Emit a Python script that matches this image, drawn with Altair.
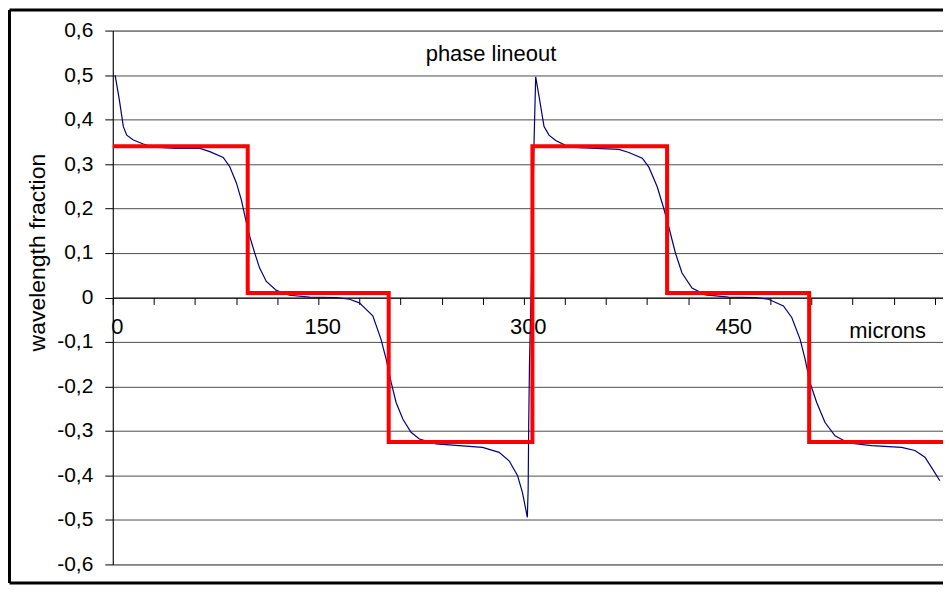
import altair as alt
import pandas as pd

FONT = "Liberation Sans"

# blue curve: phase lineout (microns, wavelength fraction)
blue_x = [1.7, 4.8, 7.7, 10.2, 15, 22.3, 29.6, 46.6, 63.6, 70.8, 80.6, 85.4, 90.3, 93.9,
          97.1, 100, 103.6, 107.2, 112.1, 119.4, 129, 143.7, 163, 172.8, 180, 184, 189.8,
          195.8, 199.5, 203.2, 206.8, 211.7, 217.7, 223.8, 235.9, 252.9, 269.9, 282, 289.3,
          295.4, 299, 302.6, 303.2, 303.6, 304.2, 306, 307.5, 308.7,
          311.2, 314.8, 318.4, 323.3, 333, 352.5, 369.5, 376.7, 386.5, 391.3, 397.4, 402.2,
          405.8, 410.7, 415.5, 422.8, 432.5, 449.5, 468.9, 478.6, 489.5, 495.6, 501.7, 505.3,
          508.9, 513.8, 519.9, 527.2, 536.9, 553.9, 575.8, 585.5, 592.8, 597.6, 603.7]
blue_y = [0.5, 0.444, 0.384, 0.365, 0.354, 0.345, 0.338, 0.335, 0.335, 0.328, 0.315, 0.294,
          0.257, 0.219, 0.174, 0.137, 0.1, 0.066, 0.036, 0.016, 0.005, 0.001, 0.0, -0.004,
          -0.012, -0.024, -0.041, -0.094, -0.138, -0.191, -0.236, -0.273, -0.303, -0.318,
          -0.329, -0.333, -0.337, -0.348, -0.367, -0.4, -0.438, -0.494, -0.43, -0.285, -0.143,
          0.1, 0.35, 0.496,
          0.451, 0.384, 0.365, 0.353, 0.338, 0.335, 0.333, 0.326, 0.313, 0.293, 0.249, 0.2,
          0.159, 0.1, 0.055, 0.021, 0.006, 0.001, 0.0, -0.004, -0.019, -0.045, -0.094, -0.138,
          -0.191, -0.236, -0.281, -0.311, -0.327, -0.333, -0.337, -0.344, -0.359, -0.382, -0.412]

# red step profile (value holds from each x to the next)
red_x = [0, 98.5, 201.4, 306.3, 404.6, 508.3, 606]
red_y = [0.34, 0.01, -0.325, 0.34, 0.01, -0.325, -0.325]

x_ticks = list(range(0, 601, 30))
y_ticks = [-0.6, -0.5, -0.4, -0.3, -0.2, -0.1, 0.0, 0.1, 0.2, 0.3, 0.4, 0.5, 0.6]

W, H = 832, 535
PAD_L, PAD_T, PAD_B = 105, 22, 20

blue_df = pd.DataFrame({"x": blue_x, "y": blue_y})
red_df = pd.DataFrame({"x": red_x, "y": red_y})

xscale = alt.Scale(domain=[0, 606], nice=False, zero=False)
yscale = alt.Scale(domain=[-0.6, 0.6], nice=False, zero=False)

x_axis = alt.Axis(
    values=x_ticks, grid=False, title=None, offset=-H / 2,
    domainColor="black", domainWidth=1, tickColor="black", tickSize=7, tickWidth=1,
    labelFont=FONT, labelFontSize=22, labelColor="black", labelPadding=12,
    labelOffset=4, labelFlush=False, labelOverlap=False,
    labelExpr="(datum.value % 150 == 0 && datum.value < 600) ? '' + datum.value : ''",
)
y_axis = alt.Axis(
    values=y_ticks, grid=True, gridColor="#4d4d4d", gridWidth=1,
    domainColor="black", domainWidth=1, tickColor="black", tickSize=8, tickWidth=1,
    labelFont=FONT, labelFontSize=21, labelColor="black", labelPadding=12,
    labelExpr="abs(datum.value) < 0.001 ? '0' : (datum.value < 0 ? '-' : '') + '0,' + round(abs(datum.value) * 10)",
    title="wavelength fraction", titleFont=FONT, titleFontSize=23, titleFontWeight="normal",
    titleColor="black", titleAngle=270, titleX=-75, titleY=222,
    titleAlign="center", titleBaseline="middle",
)

blue = alt.Chart(blue_df).mark_line(color="#000080", strokeWidth=1.2).encode(
    x=alt.X("x:Q", scale=xscale, axis=x_axis),
    y=alt.Y("y:Q", scale=yscale, axis=y_axis),
)

red = alt.Chart(red_df).mark_line(color="#ff0000", strokeWidth=4, interpolate="step-after").encode(
    x=alt.X("x:Q", scale=xscale),
    y=alt.Y("y:Q", scale=yscale),
)

one = alt.Data(values=[{}])
title_txt = alt.Chart(one).mark_text(
    text="phase lineout", font=FONT, fontSize=22, color="black", align="center", baseline="alphabetic"
).encode(x=alt.value(379), y=alt.value(30))

microns_txt = alt.Chart(one).mark_text(
    text="microns", font=FONT, fontSize=22, color="black", align="right", baseline="alphabetic"
).encode(x=alt.value(815), y=alt.value(308))

total_h = PAD_T + H + PAD_B
left_b = -PAD_L + 1.5
top_b = -PAD_T + 1.5
bot_b = total_h - PAD_T - 1.5
border_left = alt.Chart(one).mark_rule(color="black", strokeWidth=3).encode(
    x=alt.value(left_b), y=alt.value(top_b), y2=alt.value(bot_b))
border_top = alt.Chart(one).mark_rule(color="black", strokeWidth=3).encode(
    x=alt.value(left_b), x2=alt.value(W + 10), y=alt.value(top_b))
border_bot = alt.Chart(one).mark_rule(color="black", strokeWidth=3).encode(
    x=alt.value(left_b), x2=alt.value(W + 10), y=alt.value(bot_b))

chart = alt.layer(blue, red, title_txt, microns_txt, border_left, border_top, border_bot).properties(
    width=W, height=H,
    autosize=alt.AutoSizeParams(type="none"),
    padding={"left": PAD_L, "top": PAD_T, "right": 0, "bottom": PAD_B},
    background="white",
).configure_view(stroke="#a0a0a0", strokeWidth=1)

chart.save("out.html", embed_options={"renderer": "svg", "actions": False})
